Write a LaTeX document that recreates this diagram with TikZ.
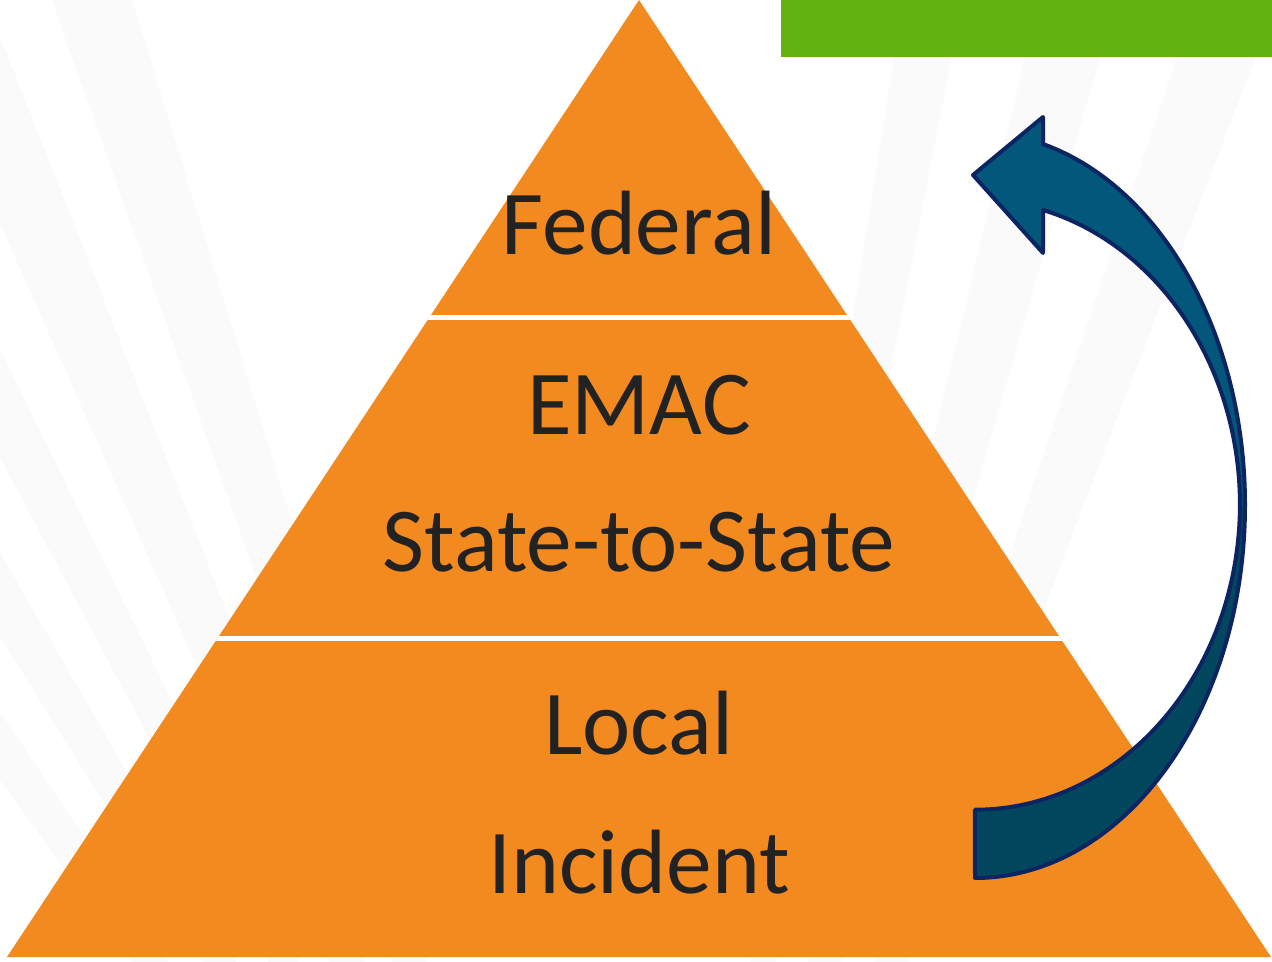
\documentclass[tikz,border=0pt]{standalone}
\usepackage{fontspec}
\setmainfont{Carlito}
\usepackage{tikz}
\usetikzlibrary{calc, positioning}
\usepackage[dvipsnames]{xcolor}
\definecolor{pyrorange}{HTML}{F28A1F}
\definecolor{bargreen}{HTML}{62B212}
\definecolor{arrowtop}{HTML}{02577A}
\definecolor{arrowlow}{HTML}{03475F}
\definecolor{arrowline}{HTML}{0C2462}
\definecolor{labeltext}{HTML}{222222}

\begin{document}
\begin{tikzpicture}[
    x=0.02cm, y=0.02cm,
    every node/.style={inner sep=0pt, text=labeltext, font=\fontsize{52}{60}\selectfont},
    level/.style={anchor=base},
    ray/.style={fill=black!2, draw=none},
    gap/.style={draw=white, line width=0.1cm},
    bendline/.style={draw=arrowline, line width=0.08cm, line join=round}
]
\useasboundingbox (0,0) rectangle (1272,961);
\fill[white] (0,0) rectangle (1272,961);

% faint rays in the back
\foreach \a/\b in {107/109.5, 111.5/114, 116/118, 120/122, 124/126, 69/71.5, 74/76.5, 79/81} {
  \fill[ray] (640,-700) -- ++(\a:2200) arc[start angle=\a, end angle=\b, radius=2200] -- cycle;
}

% green bar
\fill[bargreen] (781,904) rectangle (1272,961);

% pyramid
\coordinate (apex) at (639,961);
\coordinate (bl) at (7,4);
\coordinate (br) at (1271,4);
\fill[pyrorange] (apex) -- (br) -- (bl) -- cycle;
\begin{scope}
  \clip (apex) -- (br) -- (bl) -- cycle;
  \draw[gap] (0,643.5) -- (1272,643.5);
  \draw[gap] (0,322) -- (1272,322);
\end{scope}

\node[level] (fed) at (639,706) {Federal};
\node[level] (emac) at (639,526) {EMAC};
\node[level] (sts) at (639,389) {State-to-State};
\node[level] (loc) at (639,206) {Local};
\node[level] (inc) at (639,68) {Incident};

% curved arrow
\def\bendpath{(975,83) arc[start angle=-90, end angle=75.4, x radius=270, y radius=373]
  -- (1043,844) -- (973,786) -- (1043,708) -- (1043,751)
  arc[start angle=75.1, end angle=-90, x radius=265, y radius=305] -- cycle}
\fill[arrowlow] \bendpath;
\begin{scope}
  \clip (900,456) rectangle (1272,900);
  \fill[arrowtop] \bendpath;
\end{scope}
\draw[bendline] \bendpath;

\end{tikzpicture}
\end{document}
